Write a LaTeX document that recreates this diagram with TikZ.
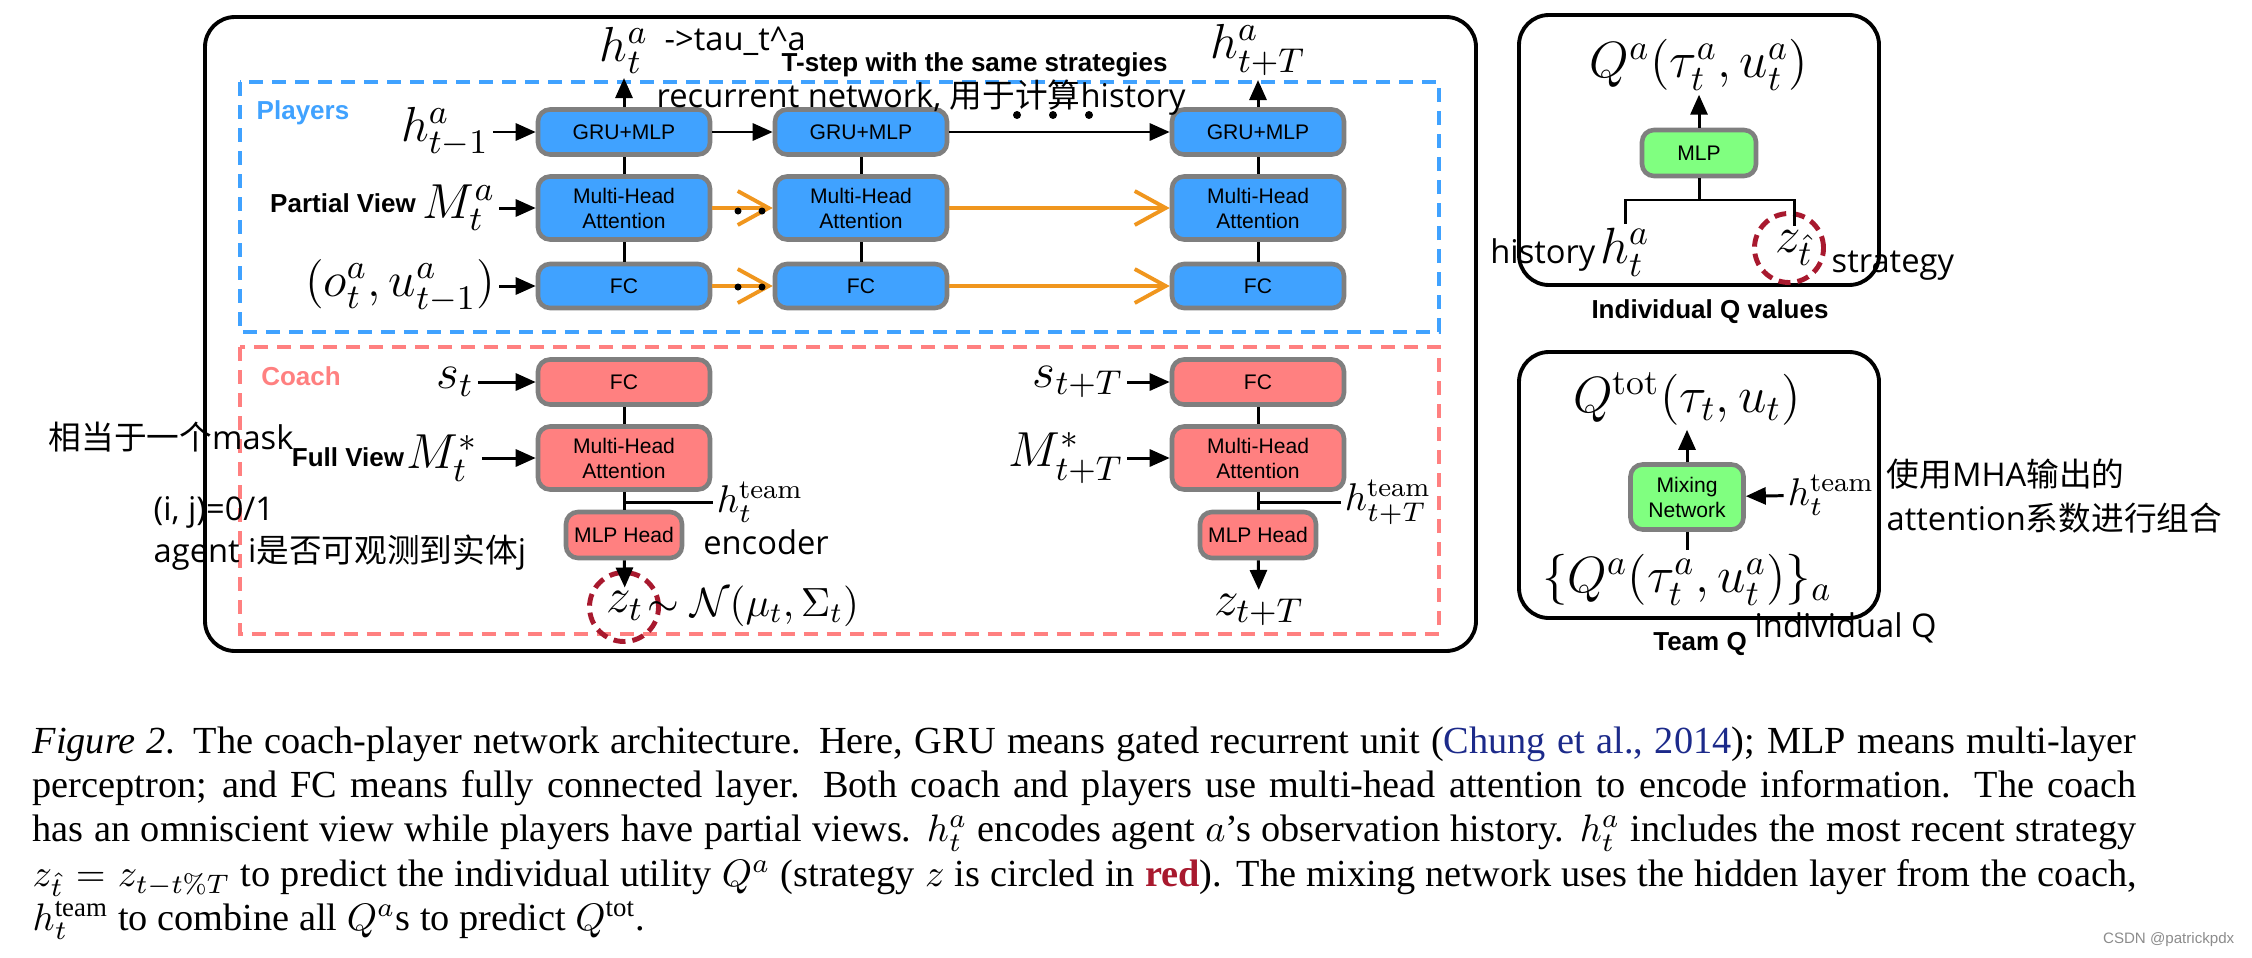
\documentclass[tikz,border=0pt]{standalone}
\usepackage{fix-cm}
\usepackage{amsmath}
\usepackage{xcolor}
\usepackage{fontspec}
\usepackage{tikz}
\usetikzlibrary{arrows.meta,positioning}
\newfontfamily\BoxSans{Liberation Sans}
\newfontfamily\NoteSans{Open Sans}
\newfontfamily\HanziSans{Noto Sans CJK SC}
\newfontfamily\CapSerif{Liberation Serif}
\newcommand{\Hanzi}[1]{{\HanziSans #1}}
\definecolor{PlayerBlue}{HTML}{40A2FF}
\definecolor{CoachRose}{HTML}{FF8080}
\definecolor{MixGreen}{HTML}{80FF80}
\definecolor{BoxEdge}{HTML}{7F7F7F}
\definecolor{LinkOrange}{HTML}{F0961E}
\definecolor{RingRed}{HTML}{A8192E}
\definecolor{CiteBlue}{HTML}{1C2A8A}

\begin{document}
\begin{tikzpicture}[
  >={Triangle[length=0.2cm,width=0.17cm]},
  netbox/.style={draw=BoxEdge,line width=1.3pt,rounded corners=1.2mm,align=center,inner sep=0pt,
                 font=\BoxSans\fontsize{6}{7.1}\selectfont},
  player/.style={netbox,fill=PlayerBlue,minimum width=1.72cm},
  coachbox/.style={netbox,fill=CoachRose},
  mixer/.style={netbox,fill=MixGreen},
  flow/.style={->,line width=0.85pt},
  stem/.style={line width=0.85pt},
  carry/.style={-{Straight Barb[length=0.31cm,width=0.34cm]},draw=LinkOrange,line width=1.1pt},
  region/.style={line width=0.9pt,dash pattern=on 0.14cm off 0.09cm},
  panelbox/.style={line width=1.1pt,rounded corners=3mm},
  ringmark/.style={circle,draw=RingRed,line width=1.4pt,dash pattern=on 0.12cm off 0.07cm,
                   minimum size=0.69cm,inner sep=0pt},
  headline/.style={font=\BoxSans\bfseries\fontsize{7.4}{9}\selectfont,inner sep=0pt},
  remark/.style={font=\NoteSans\fontsize{9.3}{11}\selectfont,inner sep=0pt},
  mathlabel/.style={font=\fontsize{14}{16}\selectfont,inner sep=1pt},
  panelmath/.style={font=\fontsize{14.5}{17}\selectfont,inner sep=1pt},
  teamlabel/.style={font=\fontsize{11}{13}\selectfont,inner sep=1pt},
]
  \useasboundingbox (0,0) rectangle (22.52,9.57);

  \draw[panelbox] (2.05,9.40) rectangle (14.76,3.06);
  \draw[region,PlayerBlue] (2.40,8.75) rectangle (14.39,6.25);
  \draw[region,CoachRose] (2.40,6.10) rectangle (14.39,3.23);
  \node[headline,text=PlayerBlue] (playerstag) at (3.03,8.44) {Players};
  \node[headline,text=CoachRose] (coachtag) at (3.01,5.81) {Coach};

  \node[player,minimum height=0.45cm] (gru1) at (6.24,8.25) {GRU+MLP};
  \node[player,minimum height=0.63cm] (att1) at (6.24,7.49) {Multi-Head\\Attention};
  \node[player,minimum height=0.44cm] (fc1) at (6.24,6.71) {FC};
  \node[player,minimum height=0.45cm] (gru2) at (8.61,8.25) {GRU+MLP};
  \node[player,minimum height=0.63cm] (att2) at (8.61,7.49) {Multi-Head\\Attention};
  \node[player,minimum height=0.44cm] (fc2) at (8.61,6.71) {FC};
  \node[player,minimum height=0.45cm] (gru3) at (12.58,8.25) {GRU+MLP};
  \node[player,minimum height=0.63cm] (att3) at (12.58,7.49) {Multi-Head\\Attention};
  \node[player,minimum height=0.44cm] (fc3) at (12.58,6.71) {FC};
  \draw[stem] (fc1) -- (att1);
  \draw[stem] (att1) -- (gru1);
  \draw[stem] (fc2) -- (att2);
  \draw[stem] (att2) -- (gru2);
  \draw[stem] (fc3) -- (att3);
  \draw[stem] (att3) -- (gru3);
  \draw[flow] (gru1) -- (gru2);
  \draw[flow] (gru2) -- (gru3);
  \draw[carry] (att1) -- (att2);
  \draw[carry] (att2) -- (att3);
  \draw[carry] (fc1) -- (fc2);
  \draw[carry] (fc2) -- (fc3);
  \foreach \dx in {7.38,7.62} {
    \fill (\dx,7.46) circle (0.035);
    \fill (\dx,6.70) circle (0.035);
  }
  \foreach \dx in {10.17,10.53,10.89}
    \fill (\dx,8.42) circle (0.04);

  \node[mathlabel,anchor=south] (hnow) at (6.24,8.79) {$h_t^a$};
  \node[mathlabel,anchor=south] (hlater) at (12.58,8.77) {$h_{t+T}^a$};
  \draw[flow] (gru1) -- (hnow);
  \draw[flow] (gru3) -- (hlater);
  \node[mathlabel] (hprev) at (4.45,8.25) {$h_{t-1}^a$};
  \node[headline] (partial) at (3.43,7.54) {Partial View};
  \node[mathlabel] (mobs) at (4.59,7.49) {$M_t^a$};
  \node[mathlabel] (obs) at (4.00,6.71) {$(o_t^a,u_{t-1}^a)$};
  \draw[flow] (hprev) -- (gru1);
  \draw[flow] (mobs) -- (att1);
  \draw[flow] (obs) -- (fc1);

  \node[coachbox,minimum width=1.72cm,minimum height=0.45cm] (cfc1) at (6.24,5.75) {FC};
  \node[coachbox,minimum width=1.72cm,minimum height=0.63cm] (catt1) at (6.24,4.99) {Multi-Head\\Attention};
  \node[coachbox,minimum width=1.16cm,minimum height=0.46cm] (chead1) at (6.24,4.22) {MLP Head};
  \node[coachbox,minimum width=1.72cm,minimum height=0.45cm] (cfc2) at (12.58,5.75) {FC};
  \node[coachbox,minimum width=1.72cm,minimum height=0.63cm] (catt2) at (12.58,4.99) {Multi-Head\\Attention};
  \node[coachbox,minimum width=1.16cm,minimum height=0.46cm] (chead2) at (12.58,4.22) {MLP Head};
  \draw[stem] (cfc1) -- (catt1);
  \draw[stem] (catt1) -- (chead1);
  \draw[stem] (cfc2) -- (catt2);
  \draw[stem] (catt2) -- (chead2);

  \node[mathlabel] (st1) at (4.55,5.75) {$s_t$};
  \node[headline] (full) at (3.48,5.00) {Full View};
  \node[mathlabel] (mall1) at (4.42,4.99) {$M_t^*$};
  \draw[flow] (st1) -- (cfc1);
  \draw[flow] (mall1) -- (catt1);
  \coordinate (tap1) at (6.24,4.55);
  \node[teamlabel] (team1) at (7.60,4.55) {$h_t^{\text{team}}$};
  \draw[stem] (tap1) -- (team1);
  \node[mathlabel] (z1) at (6.25,3.51) {$z_t$};
  \node[ringmark] (ring1) at (6.24,3.50) {};
  \node[mathlabel,anchor=west,font=\fontsize{11.6}{14}\selectfont] (prior1) at (6.43,3.51) {$\sim\mathcal{N}(\mu_t,\Sigma_t)$};
  \draw[flow] (chead1) -- (z1);

  \node[mathlabel] (st2) at (10.78,5.75) {$s_{t+T}$};
  \node[mathlabel] (mall2) at (10.66,4.99) {$M_{t+T}^*$};
  \draw[flow] (st2) -- (cfc2);
  \draw[flow] (mall2) -- (catt2);
  \coordinate (tap2) at (12.58,4.55);
  \node[teamlabel] (team2) at (13.88,4.55) {$h_{t+T}^{\text{team}}$};
  \draw[stem] (tap2) -- (team2);
  \node[mathlabel] (z2) at (12.59,3.47) {$z_{t+T}$};
  \draw[flow] (chead2) -- (z2);

  \draw[panelbox] (15.19,9.42) rectangle (18.79,6.72);
  \node[panelmath] (qa) at (16.99,8.92) {$Q^a(\tau_t^a,u_t^a)$};
  \node[mixer,minimum width=1.14cm,minimum height=0.46cm] (mlpq) at (16.99,8.04) {MLP};
  \draw[flow] (mlpq) -- (qa);
  \coordinate (fork) at (16.99,7.57);
  \node[panelmath] (hq) at (16.25,7.05) {$h_t^a$};
  \node[panelmath] (zq) at (17.94,7.09) {$z_{\hat{t}}$};
  \node[ringmark] (ringq) at (17.89,7.09) {};
  \draw[stem] (mlpq) -- (fork);
  \draw[stem] (hq.north) |- (fork) -| (zq.north);
  \node[remark,anchor=base east] (histnote) at (hq.base west) {history};
  \node[remark,anchor=base west] (stratnote) at (18.31,6.85) {strategy};
  \node[headline] (indq) at (17.10,6.45) {Individual Q values};

  \draw[panelbox] (15.19,6.05) rectangle (18.79,3.39);
  \node[panelmath] (qtot) at (16.87,5.58) {$Q^{\text{tot}}(\tau_t,u_t)$};
  \node[mixer,minimum width=1.13cm,minimum height=0.65cm] (mix) at (16.87,4.60) {Mixing\\Network};
  \node[teamlabel] (htq) at (18.31,4.62) {$h_t^{\text{team}}$};
  \node[panelmath] (qset) at (16.87,3.77) {$\{Q^a(\tau_t^a,u_t^a)\}_a$};
  \draw[flow] (mix) -- (qtot);
  \draw[flow] (htq) -- (mix);
  \draw[stem] (mix) -- (qset);
  \node[headline] (teamq) at (17.00,3.13) {Team Q};

  \node[remark,anchor=base west] (tauhint) at (6.64,9.07) {->tau\_t\textasciicircum a};
  \node[headline,anchor=west] (tstep) at (7.81,8.92) {T-step with the same strategies};
  \node[remark,anchor=west] (recnote) at (6.56,8.59) {recurrent network, \Hanzi{用于计算}history};
  \node[remark] (encnote) at (7.66,4.15) {encoder};
  \node[remark,anchor=west] (masknote) at (0.48,5.20) {\Hanzi{相当于一个}mask};
  \node[remark,anchor=west] (ijnote) at (1.53,4.45) {(i, j)=0/1};
  \node[remark,anchor=west] (agentnote) at (1.53,4.04) {agent i\Hanzi{是否可观测到实体}j};
  \node[remark,anchor=west] (indnote) at (17.54,3.29) {individual Q};
  \node[remark,anchor=west] (mhanote) at (18.86,4.83) {\Hanzi{使用}MHA\Hanzi{输出的}};
  \node[remark,anchor=west] (attnote) at (18.86,4.39) {attention\Hanzi{系数进行组合}};

  \node[anchor=north west,inner sep=0pt,align=left,
        font=\CapSerif\fontsize{10.9}{12.6}\selectfont] (caption) at (0.32,2.31) {%
    \makebox[21.04cm][s]{\textit{Figure 2.} The coach-player network architecture. Here, GRU means gated recurrent unit (\textcolor{CiteBlue}{Chung et al., 2014}); MLP means multi-layer}\\
    \makebox[21.04cm][s]{perceptron; and FC means fully connected layer. Both coach and players use multi-head attention to encode information. The coach}\\
    \makebox[21.04cm][s]{has an omniscient view while players have partial views. $h_t^a$ encodes agent $a$’s observation history. $h_t^a$ includes the most recent strategy}\\
    \makebox[21.04cm][s]{$z_{\hat{t}}=z_{t-t\%T}$ to predict the individual utility $Q^a$ (strategy $z$ is circled in \textbf{\textcolor{RingRed}{red}}). The mixing network uses the hidden layer from the coach,}\\
    $h_t^{\text{team}}$ to combine all $Q^a$s to predict $Q^{\text{tot}}$.};
  \node[anchor=east,font=\BoxSans\fontsize{4.3}{5}\selectfont,text=black!45,inner sep=0pt] (mark) at (22.35,0.17) {CSDN @patrickpdx};
\end{tikzpicture}
\end{document}
